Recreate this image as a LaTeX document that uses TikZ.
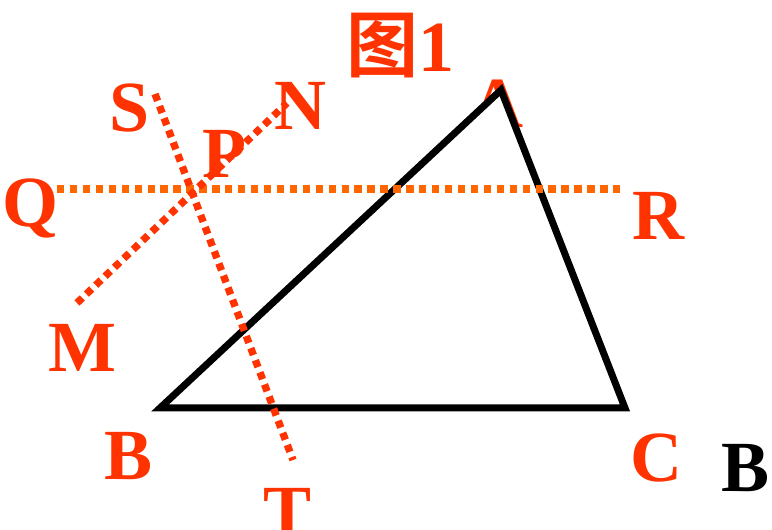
\documentclass[tikz,border=0pt]{standalone}
\usepackage{fontspec}
\setmainfont{Liberation Serif}
\newfontfamily\cjk{Noto Sans CJK SC}[BoldFont={* Bold}]
\definecolor{lblred}{HTML}{FF3300}
\definecolor{qrorange}{HTML}{FF6600}
\tikzset{
  lbl/.style={text=lblred, anchor=base, inner sep=0pt, font=\fontsize{54}{60}\selectfont\bfseries},
  dotln/.style={draw=lblred, line width=5.5pt, dash pattern=on 5.5pt off 4.2pt},
  dotorange/.style={draw=qrorange, line width=5.5pt, dash pattern=on 5.5pt off 4.2pt},
  tri/.style={draw=black, fill=white, line width=5.25pt, line join=miter}
}
\begin{document}
\begin{tikzpicture}[x=0.75pt,y=-0.75pt]
\useasboundingbox (0,0) rectangle (772,530);
% title
\node[lbl] (title) at (400,72) {{\cjk\bfseries 图}1};
% points
\coordinate (A) at (501,90);
\coordinate (B) at (160,408);
\coordinate (C) at (625,408);
\coordinate (Qe) at (57,189);
\coordinate (Re) at (624,189);
\coordinate (Se) at (155,94);
\coordinate (Te) at (293,460);
\coordinate (Me) at (77,303);
\coordinate (Ne) at (287,103);
% labels
\node[lbl] (lA) at (497,128) {A};
\node[lbl] (lS) at (130,132) {S};
\node[lbl] (lN) at (300,130) {N};
\node[lbl] (lP) at (224,178) {P};
\node[lbl] (lQ) at (31,227) {Q};
\node[lbl] (lR) at (658,240) {R};
\node[lbl] (lM) at (82,372) {M};
\node[lbl] (lB) at (129,480) {B};
\node[lbl] (lC) at (656,482) {C};
\node[lbl] (lT) at (288,536) {T};
\node[lbl, text=black] (lB2) at (746,492) {B};
% triangle (white fill hides most of the A label)
\draw[tri] (A) -- (B) -- (C) -- cycle;
% dotted lines
\draw[dotorange] (Qe) -- (Re);
\draw[dotln] (Se) -- (Te);
\draw[dotln] (Me) -- (Ne);
\end{tikzpicture}
\end{document}
